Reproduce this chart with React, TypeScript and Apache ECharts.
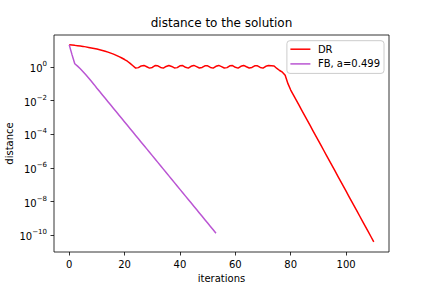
import React, { useEffect, useRef } from "react";
import * as echarts from "echarts";

// log10 of the distance
const drLog10 = [
  1.30, 1.285, 1.27, 1.25, 1.23, 1.21, 1.18, 1.15, 1.12, 1.09,
  1.05, 1.01, 0.97, 0.92, 0.87, 0.81, 0.75, 0.68, 0.60, 0.52,
  0.43, 0.33, 0.20, 0.06, -0.08,
  -0.05, 0.05, 0.08, 0.0, -0.08, -0.04, 0.07, 0.06, -0.04, -0.08,
  0.02, 0.08, 0.02, -0.07, -0.05, 0.06, 0.07, -0.03, -0.08, 0.03,
  0.08, 0.01, -0.07, -0.04, 0.06, 0.06, -0.04, -0.08, 0.03, 0.08,
  0.01, -0.07, -0.05, 0.06, 0.07, -0.03, -0.08, 0.03, 0.08, 0.0,
  -0.07, -0.04, 0.06, 0.06, -0.04, -0.08, 0.03, 0.07, 0.06, 0.05,
  -0.10, -0.22, -0.32, -0.50, -1.0, -1.38,
  -1.68, -1.98, -2.28, -2.58, -2.88, -3.18, -3.48, -3.78, -4.08, -4.38,
  -4.68, -4.98, -5.28, -5.58, -5.88, -6.18, -6.48, -6.78, -7.08, -7.38,
  -7.68, -7.98, -8.28, -8.58, -8.88, -9.18, -9.48, -9.78, -10.08, -10.38,
];

const fbLog10 = [
  1.30, 0.72, 0.18, 0.04, -0.12, -0.29, -0.47, -0.66, -0.86, -1.06,
  -1.27, -1.47, -1.67, -1.87, -2.07, -2.27, -2.47, -2.67, -2.87, -3.07,
  -3.27, -3.47, -3.67, -3.87, -4.07, -4.27, -4.47, -4.67, -4.87, -5.07,
  -5.27, -5.47, -5.67, -5.87, -6.07, -6.27, -6.47, -6.67, -6.87, -7.07,
  -7.27, -7.47, -7.67, -7.87, -8.07, -8.27, -8.47, -8.67, -8.87, -9.07,
  -9.27, -9.47, -9.67, -9.87,
];

const seriesNames = ["DR", "FB, a=0.499"];
const xTicks = [0, 20, 40, 60, 80, 100];
const yTickExponents = [-10, -8, -6, -4, -2, 0];

const FONT = "DejaVu Sans";

function supLabel(v: number): string {
  const e = Math.round(v);
  const s = e < 0 ? "\u2212" + String(-e) : String(e);
  return "{b|10}{s|" + s + "}";
}

export default function App() {
  const ref = useRef<HTMLDivElement>(null);
  useEffect(() => {
    if (!ref.current) return;
    const chart = echarts.init(ref.current, undefined, { renderer: "svg" });
    chart.setOption({
      animation: false,
      textStyle: { fontFamily: FONT },
      title: {
        text: "distance to the solution",
        left: 221.5,
        textAlign: "center",
        top: 17,
        padding: 0,
        textStyle: { fontFamily: FONT, fontSize: 12, fontWeight: "normal", color: "#000" },
      },
      legend: {
        right: 432 - 384,
        top: 40.7,
        orient: "vertical",
        align: "left",
        icon: "rect",
        itemWidth: 20,
        itemHeight: 1.5,
        itemGap: 2.7,
        padding: [2.5, 4, 3.5, 3.5],
        backgroundColor: "rgba(255,255,255,0.8)",
        borderColor: "#cccccc",
        borderWidth: 1,
        borderRadius: 3,
        textStyle: { fontFamily: FONT, fontSize: 10, color: "#000", lineHeight: 12, padding: [0, 0, 0, 2.5] },
        data: seriesNames,
      },
      grid: {
        left: 54,
        right: 432 - 389,
        top: 35,
        bottom: 288 - 252,
        containLabel: false,
        outerBoundsMode: "none",
        show: true,
        borderColor: "#000",
        borderWidth: 0.8,
        backgroundColor: "transparent",
      },
      xAxis: {
        type: "value",
        min: -5.5,
        max: 115.5,
        name: "iterations",
        nameLocation: "middle",
        nameGap: 21,
        nameMoveOverlap: false,
        nameTextStyle: { fontFamily: FONT, fontSize: 10, color: "#000" },
        axisLine: { show: false, onZero: false },
        splitLine: { show: false },
        axisTick: { show: true, inside: false, length: 3.5, lineStyle: { color: "#000", width: 0.8 }, customValues: xTicks },
        axisLabel: { margin: 7, fontFamily: FONT, fontSize: 10, color: "#000", customValues: xTicks, formatter: (v: number) => String(v) },
      },
      yAxis: {
        type: "value",
        min: -10.985,
        max: 1.885,
        name: "distance",
        nameLocation: "middle",
        nameGap: 40,
        nameMoveOverlap: false,
        nameTextStyle: { fontFamily: FONT, fontSize: 10, color: "#000" },
        axisLine: { show: false, onZero: false },
        splitLine: { show: false },
        axisTick: { show: true, inside: false, length: 3.5, lineStyle: { color: "#000", width: 0.8 }, customValues: yTickExponents },
        axisLabel: {
          margin: 7,
          customValues: yTickExponents,
          formatter: supLabel,
          rich: {
            b: { fontFamily: FONT, fontSize: 10, color: "#000", lineHeight: 13, verticalAlign: "bottom" },
            s: { fontFamily: FONT, fontSize: 7, color: "#000", lineHeight: 13, verticalAlign: "top", padding: [0, 0, 6, 0] },
          },
        },
      },
      series: [
        {
          name: seriesNames[0],
          type: "line",
          data: drLog10.map((v, i) => [i, v]),
          showSymbol: false,
          symbol: "none",
          lineStyle: { color: "#ff0000", width: 1.5 },
          itemStyle: { color: "#ff0000" },
        },
        {
          name: seriesNames[1],
          type: "line",
          data: fbLog10.map((v, i) => [i, v]),
          showSymbol: false,
          symbol: "none",
          lineStyle: { color: "#ba55d3", width: 1.5 },
          itemStyle: { color: "#ba55d3" },
        },
      ],
    });
    return () => chart.dispose();
  }, []);
  return (
    <div
      ref={ref}
      style={{ position: "fixed", left: 0, top: 0, width: 432, height: 288, background: "#fff" }}
    />
  );
}
